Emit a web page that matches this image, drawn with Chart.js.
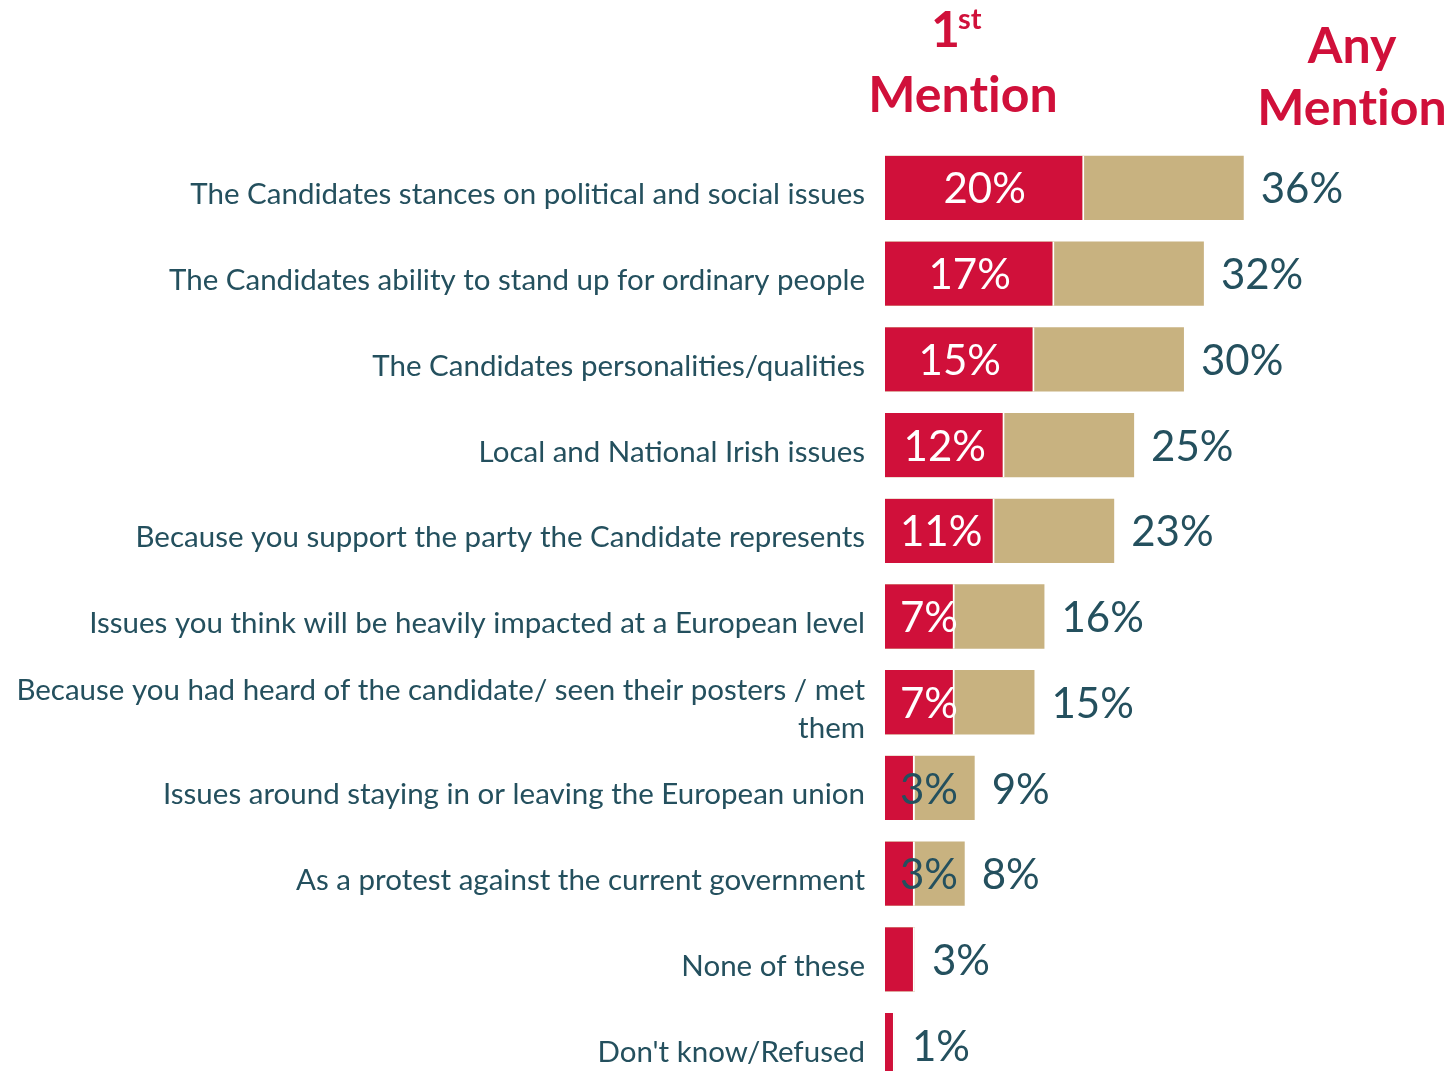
<!DOCTYPE html>
<html>
<head>
<meta charset="utf-8">
<script src="https://cdn.jsdelivr.net/npm/chart.js@4"></script>
<style>
  html, body { margin: 0; padding: 0; background: #fff; overflow: hidden; }
  canvas { display: block; }
</style>
</head>
<body>
<canvas id="diagram" width="1453" height="1100"></canvas>
<script>
"use strict";
const categories = [
  "The Candidates stances on political and social issues",
  "The Candidates ability to stand up for ordinary people",
  "The Candidates personalities/qualities",
  "Local and National Irish issues",
  "Because you support the party the Candidate represents",
  "Issues you think will be heavily impacted at a European level",
  ["Because you had heard of the candidate/ seen their posters / met", "them"],
  "Issues around staying in or leaving the European union",
  "As a protest against the current government",
  "None of these",
  "Don't know/Refused",
];
const firstMention = [20, 17, 15, 12, 11, 7, 7, 3, 3, 3, 1];
const anyMention = [36, 32, 30, 25, 23, 16, 15, 9, 8, 3, 1];
const showFirstLabel = [true, true, true, true, true, true, true, true, true, false, false];

const RED = "#D0103A";
const TAN = "#C8B280";
const TEAL = "#24505E";
const FONT = "Lato, 'Open Sans', sans-serif";

// headers + value labels
const labelsPlugin = {
  id: "labels",
  afterDatasetsDraw(chart) {
    const ctx = chart.ctx;
    const x = chart.scales.x;
    const metaFirst = chart.getDatasetMeta(0);
    const metaAny = chart.getDatasetMeta(1);
    ctx.save();
    ctx.textBaseline = "middle";
    ctx.font = "42px " + FONT;
    for (let i = 0; i < categories.length; i++) {
      const barAny = metaAny.data[i];
      ctx.fillStyle = TEAL;
      ctx.textAlign = "left";
      ctx.fillText(anyMention[i] + "%", x.getPixelForValue(anyMention[i]) + 17, barAny.y + 2);
      if (!showFirstLabel[i]) continue;
      const bar = metaFirst.data[i];
      const txt = firstMention[i] + "%";
      const w = ctx.measureText(txt).width;
      const x0 = x.getPixelForValue(0);
      const x1 = x.getPixelForValue(firstMention[i]);
      const cx = Math.max((x0 + x1) / 2, x0 + 15 + w / 2);
      ctx.fillStyle = w > (x1 - x0) ? TEAL : "#fff";
      ctx.textAlign = "center";
      ctx.fillText(txt, cx, bar.y + 2);
    }
    // headers
    const mention = "Ment\u200Cion";
    ctx.fillStyle = RED;
    ctx.textBaseline = "alphabetic";
    ctx.textAlign = "center";
    ctx.font = "bold 50px " + FONT;
    ctx.fillText(mention, 963, 112);
    ctx.fillText("Any", 1352, 63);
    ctx.fillText(mention, 1352, 125);
    ctx.textAlign = "left";
    ctx.fillText("1", 931, 47);
    ctx.font = "bold 29px " + FONT;
    ctx.fillText("st", 958, 29);
    ctx.restore();
  },
};

new Chart(document.querySelector("#diagram").getContext("2d"), {
  type: "bar",
  data: {
    labels: categories,
    datasets: [
      {
        label: "1st Mention",
        data: firstMention,
        backgroundColor: RED,
        borderColor: "#fff",
        borderWidth: { top: 0, right: 2, bottom: 0, left: 0 },
        borderSkipped: false,
        grouped: false,
        order: 0,
      },
      {
        label: "Any Mention",
        data: anyMention,
        backgroundColor: TAN,
        borderWidth: 0,
        grouped: false,
        order: 1,
      },
    ],
  },
  options: {
    indexAxis: "y",
    responsive: false,
    animation: false,
    // canvas is taller than the window: the last row is cut off in the original
    layout: { padding: { top: 145, bottom: 12, left: 0, right: 0 } },
    datasets: { bar: { barPercentage: 0.75, categoryPercentage: 1 } },
    plugins: { legend: { display: false }, tooltip: { enabled: false } },
    scales: {
      x: { display: false, min: 0, max: 57 },
      y: {
        grid: { display: false, drawTicks: false },
        border: { display: false },
        ticks: {
          color: TEAL,
          padding: 20,
          labelOffset: 7,
          font: { family: FONT, size: 29.5, lineHeight: 1.3 },
        },
        afterFit(scale) {
          scale.width = 885;
          scale.paddingTop = 0;
          scale.paddingBottom = 0;
        },
      },
    },
  },
  plugins: [labelsPlugin],
});
</script>
</body>
</html>
